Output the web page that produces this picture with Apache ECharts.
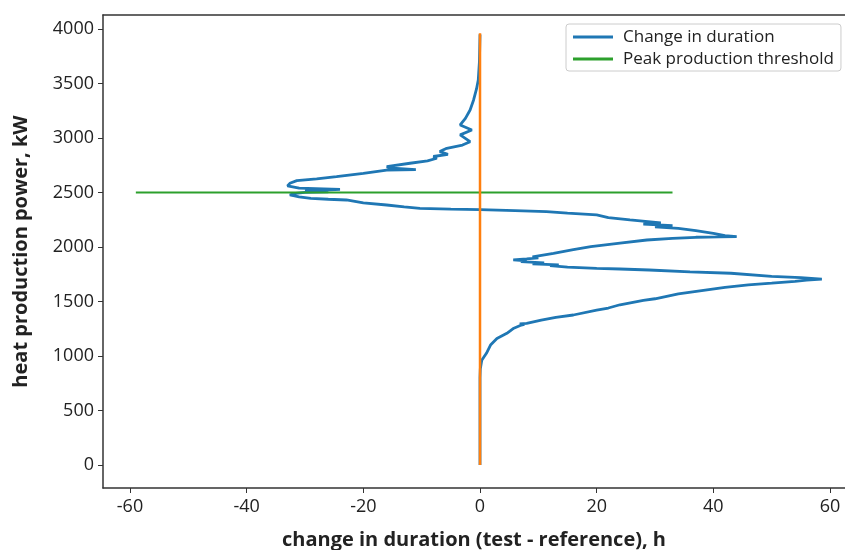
<!DOCTYPE html>
<html>
<head>
<meta charset="utf-8">
<script src="https://cdn.jsdelivr.net/npm/echarts@6/dist/echarts.min.js"></script>
<style>html,body{margin:0;padding:0;background:#fff}#c{width:845px;height:550px}</style>
</head>
<body>
<div id="c"></div>
<script>
// tick labels
const xTicks = [-60, -40, -20, 0, 20, 40, 60];
const yTicks = [0, 500, 1000, 1500, 2000, 2500, 3000, 3500, 4000];

// Change in duration: power (kW) and change (h)
const durationPower = [0,400,800,880,960,1025,1100,1160,1208,1255,1280,1290,1295,1300,1330,1355,1376,1420,1440,1470,1490,1510,1525,1570,1600,1630,1652,1668,1685,1695,1706,1718,1730,1759,1772,1789,1798,1804,1815,1829,1835,1845,1855,1865,1872,1881,1890,1900,1910,1942,1975,2003,2035,2064,2078,2089,2092,2095,2105,2125,2150,2170,2185,2195,2210,2222,2248,2270,2294,2310,2324,2334,2342,2348,2355,2368,2385,2405,2431,2438,2446,2460,2477,2490,2500,2505,2512,2523,2529,2539,2560,2584,2609,2625,2646,2675,2706,2710,2722,2737,2768,2790,2814,2830,2850,2875,2905,2935,2966,3028,3073,3119,3180,3257,3349,3450,3532,3700,3950];
const durationChange = [0,0,0,0.05,0.3,1.1,1.8,2.9,4.6,5.8,6.9,7.6,6.8,8,10.5,13,16,20,22,24,26,28,30,34,38,42,46,50,54,56,58.6,55,50,43,36,29,24,20,15,12,13.5,9,11,7,8,5.7,8,10,9,12.6,16,19,24,28.6,33,37,41,44,42,40,37,34,30,33,28,31,25.7,22,20,15,11.4,6,0,-5,-10.3,-13,-16,-20,-22.9,-26,-29,-31,-32.6,-32,-30,-26,-30,-30.3,-24,-31,-33,-32.6,-31.4,-28,-24.6,-20,-16,-11,-15,-16,-12,-9,-7.4,-8,-5.5,-6.9,-5.7,-3,-1.7,-3.4,-1.4,-3.4,-2.5,-1.7,-1.1,-0.6,-0.3,-0.1,0];

// zero reference line
const zeroX = [0, 0];
const zeroPower = [0, 3960];

// peak production threshold
const thresholdX = [-59, 33];
const thresholdPower = [2500, 2500];

const pairs = (xs, ys) => xs.map((x, i) => [x, ys[i]]);

const chart = echarts.init(document.getElementById('c'), null, {renderer: 'canvas'});
const font = '"Open Sans", "DejaVu Sans", sans-serif';
const X_MIN = -64.63, X_MAX = 62.57;
chart.setOption({
  animation: false,
  backgroundColor: '#fff',
  grid: {left: 103, top: 15, bottom: 62, right: 0, show: false, containLabel: false, outerBoundsMode: 'none'},
  legend: {
    orient: 'vertical', left: 566, top: 24,
    data: ['Change in duration', 'Peak production threshold'],
    icon: 'rect', itemWidth: 40, itemHeight: 3, itemGap: 2,
    padding: [3, 7, 2, 7],
    borderColor: '#ccc', borderWidth: 1, borderRadius: 3,
    textStyle: {fontFamily: font, fontSize: 17, color: '#222', lineHeight: 20, padding: [0, 0, 0, 5]}
  },
  xAxis: [{
    type: 'value', min: X_MIN, max: X_MAX, position: 'bottom',
    name: 'change in duration (test - reference), h', nameLocation: 'middle', nameGap: 42,
    nameTextStyle: {fontFamily: font, fontSize: 20, fontWeight: 'bold', color: '#222'},
    splitLine: {show: false},
    axisLine: {show: true, onZero: false, lineStyle: {color: '#333', width: 1.5}},
    axisTick: {show: true, length: 5, customValues: xTicks, lineStyle: {color: '#333'}},
    axisLabel: {customValues: xTicks, fontFamily: font, fontSize: 18, color: '#222', margin: 10}
  }, {
    type: 'value', min: X_MIN, max: X_MAX, position: 'top',
    splitLine: {show: false}, axisTick: {show: false}, axisLabel: {show: false},
    axisLine: {show: true, onZero: false, lineStyle: {color: '#333', width: 1.5}}
  }],
  yAxis: {
    type: 'value', min: -211, max: 4128,
    name: 'heat production power, kW', nameLocation: 'middle', nameGap: 72,
    nameTextStyle: {fontFamily: font, fontSize: 20, fontWeight: 'bold', color: '#222'},
    splitLine: {show: false},
    axisLine: {show: true, onZero: false, lineStyle: {color: '#333', width: 1.5}},
    axisTick: {show: true, length: 5, customValues: yTicks, lineStyle: {color: '#333'}},
    axisLabel: {customValues: yTicks, formatter: v => String(v), fontFamily: font, fontSize: 18, color: '#222', margin: 9}
  },
  series: [
    {name: 'Change in duration', type: 'line', data: pairs(durationChange, durationPower), showSymbol: false, symbol: 'none',
     lineStyle: {color: '#1f77b4', width: 2.8}, itemStyle: {color: '#1f77b4'}, z: 2},
    {name: 'Peak production threshold', type: 'line', data: pairs(thresholdX, thresholdPower), showSymbol: false, symbol: 'none',
     lineStyle: {color: '#2ca02c', width: 2}, itemStyle: {color: '#2ca02c'}, z: 3},
    {name: 'zero', type: 'line', data: pairs(zeroX, zeroPower), showSymbol: false, symbol: 'none',
     lineStyle: {color: '#ff7f0e', width: 2.5}, itemStyle: {color: '#ff7f0e'}, z: 4}
  ]
});
</script>
</body>
</html>
